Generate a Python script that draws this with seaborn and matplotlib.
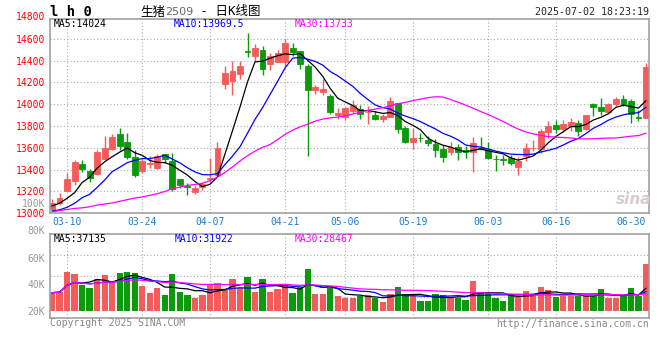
import numpy as np
import pandas as pd
import seaborn as sns
import matplotlib.pyplot as plt

sns.set_style("white")
plt.rcParams["font.family"] = ["DejaVu Sans Mono", "Noto Sans CJK SC"]

# trading days 2025-03-06 .. 2025-07-02, index 0..79
tick_pos = [2, 12, 21, 31, 39, 48, 58, 67, 77]
tick_lab = ["03-10", "03-24", "04-07", "04-21", "05-06", "05-19", "06-03", "06-16", "06-30"]

open_ = [13040, 13097, 13203, 13297, 13449, 13385, 13358, 13494, 13594, 13724,
         13655, 13518, 13385, 13455, 13420, 13540, 13480, 13310, 13250, 13195,
         13240, 13312, 13350, 14185, 14215, 14277, 14490, 14446, 14498, 14369,
         14391, 14391, 14514, 14486, 14354, 14132, 14110, 14080, 13901, 13882,
         13937, 13952, 13925, 13900, 13861, 13882, 14013, 13779, 13656, 13692,
         13671, 13635, 13589, 13558, 13604, 13583, 13565, 13598, 13589, 13500,
         13495, 13507, 13428, 13528, 13597, 13594, 13745, 13806, 13769, 13800,
         13825, 13769, 14000, 13978, 13929, 14000, 14052, 14031, 13883, 13877]
high = [13130, 13182, 13367, 13485, 13485, 13403, 13579, 13706, 13724, 13782,
        13736, 13585, 13494, 13524, 13545, 13545, 13555, 13315, 13275, 13250,
        13290, 13505, 13650, 14355, 14400, 14400, 14655, 14554, 14538, 14470,
        14500, 14594, 14563, 14492, 14370, 14180, 14230, 14095, 13968, 13977,
        14035, 13989, 13983, 13937, 13907, 14065, 14015, 13800, 13778, 13735,
        13711, 13686, 13625, 13650, 13635, 13613, 13696, 13696, 13656, 13534,
        13534, 13534, 13513, 13644, 13670, 13770, 13846, 13855, 13860, 13877,
        13855, 13900, 14015, 14062, 14015, 14068, 14083, 14046, 13945, 14378]
low = [13020, 13076, 13200, 13258, 13379, 13288, 13349, 13490, 13585, 13579,
       13494, 13334, 13367, 13418, 13410, 13465, 13200, 13230, 13170, 13180,
       13215, 13290, 13345, 14140, 14083, 14231, 14430, 14400, 14268, 14310,
       14385, 14354, 14446, 14323, 13525, 14095, 14088, 13907, 13867, 13855,
       13922, 13861, 13815, 13852, 13840, 13880, 13733, 13642, 13590, 13656,
       13613, 13513, 13473, 13537, 13491, 13507, 13382, 13580, 13500, 13391,
       13443, 13443, 13351, 13482, 13570, 13554, 13692, 13738, 13745, 13754,
       13708, 13765, 13892, 13898, 13925, 13985, 13985, 13825, 13846, 13870]
close = [13090, 13142, 13312, 13467, 13403, 13327, 13564, 13600, 13700, 13615,
         13515, 13349, 13479, 13464, 13530, 13500, 13225, 13255, 13245, 13235,
         13265, 13328, 13595, 14290, 14308, 14354, 14478, 14514, 14323, 14440,
         14471, 14563, 14483, 14369, 14132, 14158, 14140, 13928, 13919, 13962,
         13992, 13907, 13930, 13862, 13891, 14029, 13770, 13654, 13689, 13688,
         13644, 13583, 13519, 13604, 13558, 13560, 13644, 13590, 13507, 13497,
         13490, 13461, 13482, 13595, 13602, 13754, 13800, 13769, 13815, 13837,
         13754, 13898, 13975, 13938, 14000, 14046, 14000, 13908, 13870, 14338]
# volume in thousands of lots
volume = [33.6, 34.3, 49.4, 47.6, 39.3, 37.3, 43.8, 46.8, 41.0, 48.6,
          49.1, 48.3, 38.5, 33.6, 36.8, 31.8, 47.6, 34.3, 31.8, 29.8,
          31.8, 40.0, 41.0, 35.6, 43.8, 36.8, 45.3, 34.3, 43.8, 34.3,
          36.3, 39.0, 33.6, 38.0, 51.4, 32.6, 32.6, 36.8, 31.1, 29.8,
          29.8, 31.1, 31.8, 29.3, 26.8, 32.6, 38.0, 32.6, 31.1, 27.3,
          27.3, 32.6, 31.8, 30.6, 29.8, 28.0, 42.5, 34.3, 33.0, 29.8,
          27.3, 32.6, 30.6, 35.1, 31.1, 38.0, 35.6, 30.6, 31.1, 31.1,
          31.1, 31.1, 31.1, 36.3, 29.8, 29.8, 31.1, 37.3, 31.1, 55.2]

# moving-average values before enough history is visible
ma5_head = [13067, 13092, 13138, 13189]
ma10_head = [13021, 13032, 13055, 13092, 13143, 13174, 13238, 13305, 13382]
ma30_head = [13015, 13025, 13035, 13045, 13050, 13060, 13075, 13085, 13095, 13110,
             13125, 13140, 13150, 13165, 13180, 13200, 13225, 13240, 13255, 13265,
             13275, 13300, 13330, 13375, 13425, 13480, 13528, 13570, 13605]

RED = "#f65b5b"
GREEN = "#0a9a0a"
FRAME = "#999999"
GRID = "#aaaaaa"
DATE_BLUE = "#1a7fd0"

df = pd.DataFrame({"open": open_, "high": high, "low": low, "close": close, "vol": volume})
df["idx"] = np.arange(len(df))
df["color"] = np.where(df["close"] >= df["open"], RED, GREEN)

def moving(series, n, head):
    out = series.rolling(n).mean()
    out.iloc[:len(head)] = head
    return out

df["ma5"] = moving(df["close"], 5, ma5_head)
df["ma10"] = moving(df["close"], 10, ma10_head)
df["ma30"] = moving(df["close"], 30, ma30_head)
df["vma5"] = df["vol"].rolling(5, min_periods=1).mean()
df["vma10"] = df["vol"].rolling(10, min_periods=1).mean()
df["vma30"] = df["vol"].rolling(30, min_periods=1).mean()

W, H = 660, 360
fig = plt.figure(figsize=(W / 100, H / 100), dpi=100)
ax = fig.add_axes([50 / W, 1 - 213.3 / H, 599 / W, 194.3 / H])
axv = fig.add_axes([50 / W, 1 - 317.7 / H, 599 / W, 83.4 / H], sharex=ax)

# -----------------------------------------------------------------
# price panel
# -----------------------------------------------------------------
for p in tick_pos[:-1]:
    ax.axvline(p, color=GRID, lw=0.8, ls=(0, (1, 2)), zorder=0)
    axv.axvline(p, color=GRID, lw=0.8, ls=(0, (1, 2)), zorder=0)

ax.vlines(df["idx"], df["low"], df["high"], colors=df["color"], lw=1.0, zorder=2)
ax.bar(df["idx"], df["close"] - df["open"], bottom=df["open"], width=0.78,
       color=df["color"], edgecolor=df["color"], linewidth=0.6, zorder=3)

sns.lineplot(x=df["idx"], y=df["ma5"], ax=ax, color="black", lw=0.9, zorder=4)
sns.lineplot(x=df["idx"], y=df["ma10"], ax=ax, color="#0000ff", lw=0.9, zorder=4)
sns.lineplot(x=df["idx"], y=df["ma30"], ax=ax, color="#ff00ff", lw=0.9, zorder=4)

ax.set_xlim(-0.27, 79.4)
ax.set_ylim(13000, 14782)
ax.set_yticks(range(13000, 14601, 200))
ax.grid(axis="y", color=GRID, lw=0.8, ls=(0, (1, 2)))
ax.grid(axis="x", visible=False)
ax.set_xticks(tick_pos, tick_lab)
ax.tick_params(axis="y", length=0, pad=3.5, labelsize=7, labelcolor="#ff0000")
ax.tick_params(axis="x", length=0, pad=2.5, labelsize=7, labelcolor=DATE_BLUE)
ax.annotate("14800", xy=(0, 14800), xycoords=("axes fraction", "data"),
            xytext=(-3.5, 0), textcoords="offset points", ha="right", va="center",
            fontsize=7, color="#ff0000", annotation_clip=False)
ax.set_xlabel("")
ax.set_ylabel("")

# -----------------------------------------------------------------
# volume panel
# -----------------------------------------------------------------
vlo, vhi = 14.73, 77.53
for f in (0.25, 0.5, 0.75):
    axv.axhline(vlo + f * (vhi - vlo), color=GRID, lw=0.8, ls=(0, (1, 2)), zorder=0)

axv.bar(df["idx"], df["vol"] - 20, bottom=20, width=0.84, color=df["color"], lw=0, zorder=2)
sns.lineplot(x=df["idx"], y=df["vma5"], ax=axv, color="black", lw=0.9, zorder=4)
sns.lineplot(x=df["idx"], y=df["vma10"], ax=axv, color="#0000ff", lw=0.9, zorder=4)
sns.lineplot(x=df["idx"], y=df["vma30"], ax=axv, color="#ff00ff", lw=0.9, zorder=4)

axv.set_ylim(vlo, vhi)
axv.set_yticks([20, 40, 60], ["20K", "40K", "60K"])
axv.tick_params(axis="y", length=0, pad=3.5, labelsize=7, labelcolor=FRAME)
axv.tick_params(axis="x", length=0, labelbottom=False)
for v in (80, 100):
    axv.annotate(f"{v}K", xy=(0, v), xycoords=("axes fraction", "data"),
                 xytext=(-3.5, 0), textcoords="offset points", ha="right", va="center",
                 fontsize=7, color=FRAME, annotation_clip=False)
axv.set_xlabel("")
axv.set_ylabel("")

for a in (ax, axv):
    for s in a.spines.values():
        s.set_color(FRAME)
        s.set_linewidth(1.1)
        s.set_zorder(6)

# -----------------------------------------------------------------
# texts
# -----------------------------------------------------------------
def px(x, y):
    return x / W, 1 - y / H

fig.text(*px(50, 11.5), "l h 0", fontsize=10, weight="bold", va="center", color="black")
t1 = fig.text(*px(140, 12), "生猪", fontsize=9, va="center", color="black")
t2 = ax.annotate("2509", xy=(1, 0.5), xycoords=t1, va="center", ha="left",
                 fontsize=8, color="#666666", annotation_clip=False,
                 family=["DejaVu Sans", "Noto Sans CJK SC"])
ax.annotate(" - 日K线图", xy=(1, 0.5), xycoords=t2, va="center", ha="left",
            fontsize=9, color="black", annotation_clip=False)
fig.text(*px(649, 12.3), "2025-07-02 18:23:19", fontsize=7.2, ha="right", va="center")

fig.text(*px(54, 23.7), "MA5:14024", fontsize=7, va="center", color="black")
fig.text(*px(174, 23.7), "MA10:13969.5", fontsize=7, va="center", color="#0000ff")
fig.text(*px(295, 23.7), "MA30:13733", fontsize=7, va="center", color="#ff00ff")

fig.text(*px(54, 238.5), "MA5:37135", fontsize=7, va="center", color="black")
fig.text(*px(175, 238.5), "MA10:31922", fontsize=7, va="center", color="#0000ff")
fig.text(*px(295, 238.5), "MA30:28467", fontsize=7, va="center", color="#ff00ff")

fig.text(*px(50, 323.5), "Copyright 2025 SINA.COM", fontsize=7, va="center", color="#888888")
fig.text(*px(649, 324), "http://finance.sina.com.cn", fontsize=7, ha="right", va="center",
         color="#888888")
fig.text(*px(634, 199), "sina", fontsize=11, ha="center", va="center", style="italic",
         weight="bold", color="#d6cccc", family="DejaVu Sans", zorder=1)

fig.savefig("out.png", dpi=100)
